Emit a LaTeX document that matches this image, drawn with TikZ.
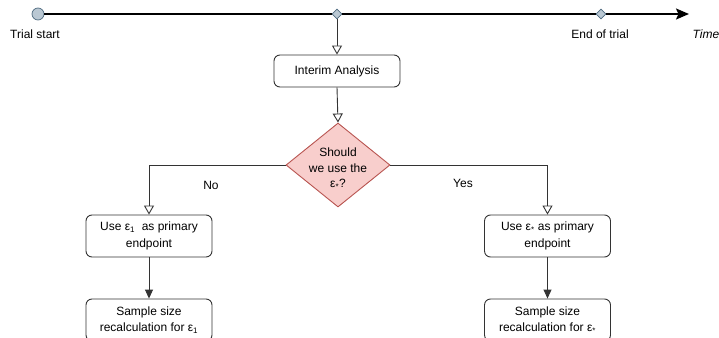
\documentclass[tikz,border=0pt]{standalone}
\usepackage{fontspec}
\setmainfont{Liberation Sans}
\usetikzlibrary{arrows.meta,shapes.geometric}
\definecolor{markfill}{HTML}{BAC8D3}
\definecolor{markdraw}{HTML}{4F6B80}
\definecolor{decfill}{HTML}{F8CECC}
\definecolor{decdraw}{HTML}{B85450}
\definecolor{linegray}{HTML}{333333}
\begin{document}
\begin{tikzpicture}[x=1pt,y=-1pt,
  box/.style={draw=linegray, rounded corners=6pt, line width=0.9pt, minimum width=126pt, align=center, font=\fontsize{12}{16.5}\selectfont, inner sep=0pt},
  flow/.style={draw=linegray, line width=0.9pt},
  openarr/.style={-{Triangle[open,length=9pt,width=10pt,fill=white]}},
  solidarr/.style={-{Triangle[length=9pt,width=8pt]}},
  lbl/.style={font=\fontsize{12}{14}\selectfont, inner sep=0pt},
  tmark/.style={shape=diamond, draw=markdraw, fill=markfill, minimum width=10pt, minimum height=10pt, inner sep=0pt, line width=0.7pt}
]
\useasboundingbox (0,0) rectangle (719,337);
\clip (0,0) rectangle (719,337);
% timeline
\node[circle, draw=markdraw, fill=markfill, minimum size=12pt, inner sep=0pt, line width=0.7pt] (ts) at (38,14) {};
\node[tmark] (tm) at (337,14) {};
\node[tmark] (te) at (601,14) {};
\coordinate (tend) at (689,14);
\draw[line width=1.6pt, -{Stealth[length=13pt,width=11pt,inset=2.5pt]}] (ts) -- (tm) -- (te) -- (tend);
\node[lbl] (lstart) at (35,34) {Trial start};
\node[lbl] (lend) at (600,34) {End of trial};
\node[lbl, font=\fontsize{12}{14}\selectfont\itshape] (ltime) at (706,34) {Time};
% flow
\node[box, minimum height=32pt] (ia) at (337,71) {Interim Analysis};
\node[shape=diamond, draw=decdraw, fill=decfill, minimum width=104pt, minimum height=84pt, inner sep=0pt, line width=0.9pt] (q) at (338,165) {};
\node[align=center, font=\fontsize{12}{15.5}\selectfont, inner sep=0pt] (qt) at (338,169) {Should\\we use the\\ε\textsubscript{*}?};
\node[box, minimum height=42pt] (ul) at (149,236) {Use ε\textsubscript{1}\ \ as primary\\endpoint};
\node[box, minimum height=42pt] (ur) at (547.5,236) {Use ε\textsubscript{*} as primary\\endpoint};
\node[box, minimum height=42pt] (sl) at (149,320) {Sample size\\recalculation for ε\textsubscript{1}};
\node[box, minimum height=42pt] (sr) at (547.5,320) {Sample size\\recalculation for ε\textsubscript{*}};
\draw[flow, openarr] (tm.south) -- (ia.north);
\draw[flow, openarr] (ia.south) -- (q.north);
\draw[flow, openarr] (q.west) -| (ul.north);
\draw[flow, openarr] (q.east) -| (ur.north);
\draw[flow, solidarr] (ul.south) -- (sl.north);
\draw[flow, solidarr] (ur.south) -- (sr.north);
\node[lbl] (no) at (211,185) {No};
\node[lbl] (yes) at (463,183) {Yes};
\end{tikzpicture}
\end{document}
